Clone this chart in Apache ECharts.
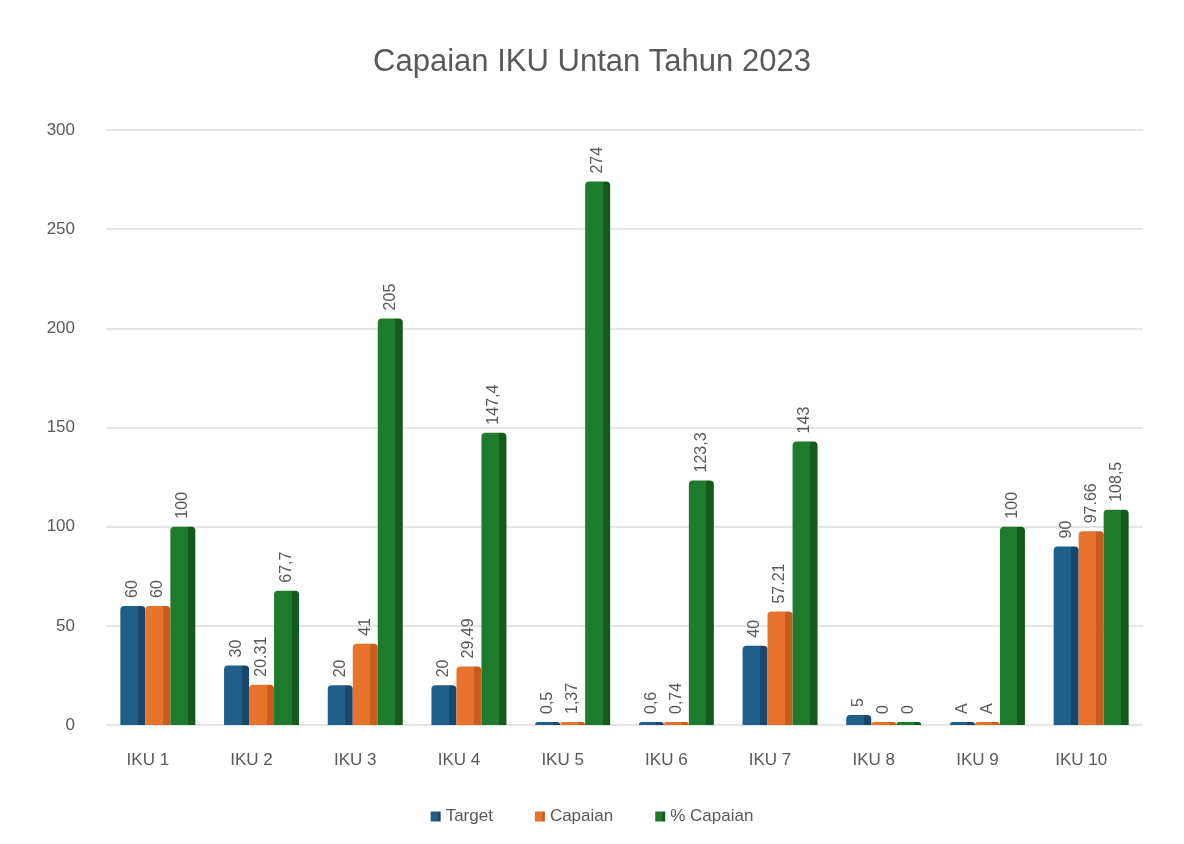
<!DOCTYPE html>
<html>
<head>
<meta charset="utf-8">
<script src="https://cdn.jsdelivr.net/npm/echarts@6/dist/echarts.min.js"></script>
<style>
  html, body { margin: 0; padding: 0; background: #fff; }
  #chart { width: 1184px; height: 844px; }
</style>
</head>
<body>
<div id="chart"></div>
<script>
// data
const categories = ['IKU 1', 'IKU 2', 'IKU 3', 'IKU 4', 'IKU 5', 'IKU 6', 'IKU 7', 'IKU 8', 'IKU 9', 'IKU 10']
const targetValues = [60, 30, 20, 20, 0.5, 0.6, 40, 5, 0.5, 90]
const targetLabels = ['60', '30', '20', '20', '0,5', '0,6', '40', '5', 'A', '90']
const capaianValues = [60, 20.31, 41, 29.49, 1.37, 0.74, 57.21, 0, 0.5, 97.66]
const capaianLabels = ['60', '20.31', '41', '29.49', '1,37', '0,74', '57.21', '0', 'A', '97.66']
const persenValues = [100, 67.7, 205, 147.4, 274, 123.3, 143, 0, 100, 108.5]
const persenLabels = ['100', '67,7', '205', '147,4', '274', '123,3', '143', '0', '100', '108,5']
const yTicks = [0, 50, 100, 150, 200, 250, 300]

const FONT = 'Liberation Sans, Arial, sans-serif'
const TEXT_COLOR = '#595959'

// face colour + darker side strip, gives the flat bars a bit of depth
function faceColor(main, side) {
  return {
    type: 'linear', x: 0, y: 0, x2: 1, y2: 0,
    colorStops: [
      { offset: 0, color: main },
      { offset: 0.7, color: main },
      { offset: 0.7, color: side },
      { offset: 1, color: side }
    ]
  }
}

function makeSeries(name, values, labels, main, side) {
  return {
    name: name,
    type: 'bar',
    data: values,
    barWidth: 25,
    barGap: '0%',
    barMinHeight: 3,
    itemStyle: { color: faceColor(main, side), borderRadius: [4, 4, 0, 0] },
    label: {
      show: true,
      position: 'top',
      rotate: 90,
      align: 'left',
      verticalAlign: 'middle',
      distance: 8,
      fontFamily: FONT,
      fontSize: 16,
      color: TEXT_COLOR,
      formatter: (p) => labels[p.dataIndex]
    }
  }
}

const chart = echarts.init(document.getElementById('chart'))
chart.setOption({
  backgroundColor: '#fff',
  animation: false,
  color: ['#1f5f8a', '#e8732c', '#1e7a2c'],
  title: {
    text: 'Capaian IKU Untan Tahun 2023',
    left: 'center',
    top: 42,
    textStyle: { fontFamily: FONT, fontSize: 31, fontWeight: 'normal', color: TEXT_COLOR }
  },
  legend: {
    bottom: 14,
    left: 'center',
    icon: 'rect',
    itemWidth: 10,
    itemHeight: 10,
    itemGap: 42,
    textStyle: { fontFamily: FONT, fontSize: 17, color: TEXT_COLOR }
  },
  grid: { left: 106, right: 41, top: 130, bottom: 119 },
  xAxis: {
    type: 'category',
    data: categories,
    axisLine: { show: false },
    axisTick: { show: false },
    // labels sit a little left of the bars (3D depth in the original)
    axisLabel: { fontFamily: FONT, fontSize: 17, color: TEXT_COLOR, margin: 27, padding: [0, 20, 0, 0] }
  },
  yAxis: {
    type: 'value',
    min: yTicks[0],
    max: yTicks[yTicks.length - 1],
    interval: 50,
    axisLine: { show: false },
    axisTick: { show: false },
    axisLabel: { fontFamily: FONT, fontSize: 17, color: TEXT_COLOR, margin: 31 },
    splitLine: { lineStyle: { color: '#dcdcdc', width: 1.5 } }
  },
  series: [
    makeSeries('Target', targetValues, targetLabels, '#1f5f8a', '#17476a'),
    makeSeries('Capaian', capaianValues, capaianLabels, '#e8732c', '#c85d1f'),
    makeSeries('% Capaian', persenValues, persenLabels, '#1e7a2c', '#145a1e')
  ]
})
</script>
</body>
</html>
